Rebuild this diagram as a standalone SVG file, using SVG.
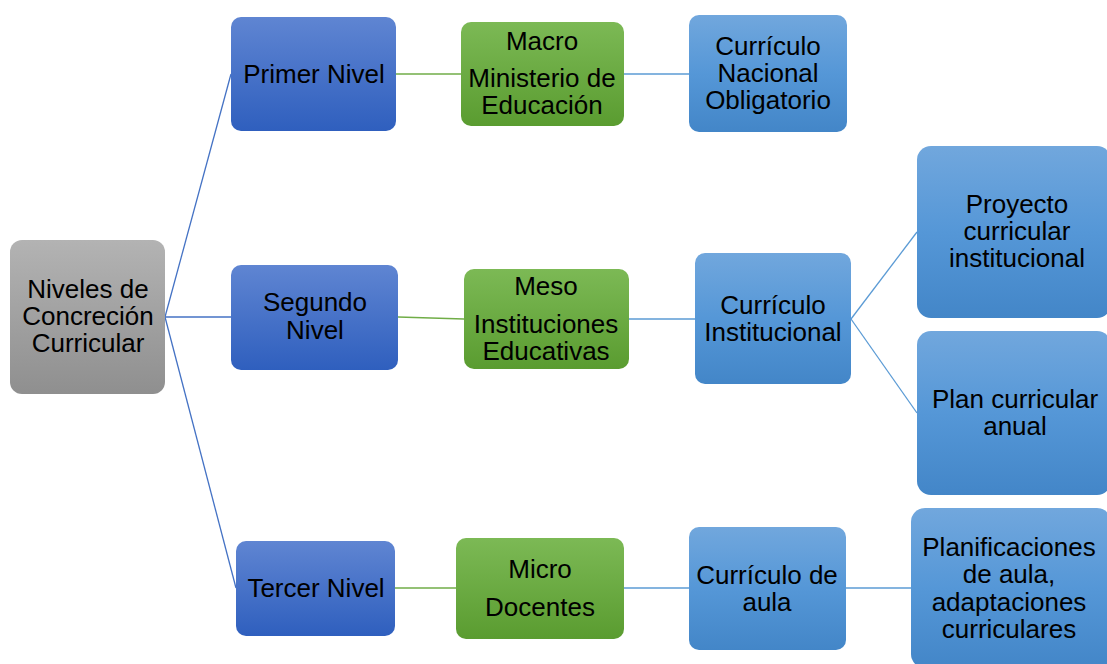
<svg xmlns="http://www.w3.org/2000/svg" width="1107" height="664" viewBox="0 0 1107 664">
<defs>
<linearGradient id="gGray" x1="0" y1="0" x2="0" y2="1"><stop offset="0" stop-color="#b3b3b3"/><stop offset="1" stop-color="#8f8f8f"/></linearGradient>
<linearGradient id="gBlue" x1="0" y1="0" x2="0" y2="1"><stop offset="0" stop-color="#5f85d2"/><stop offset="1" stop-color="#2f5fbe"/></linearGradient>
<linearGradient id="gGreen" x1="0" y1="0" x2="0" y2="1"><stop offset="0" stop-color="#7cb955"/><stop offset="1" stop-color="#5a9c30"/></linearGradient>
<linearGradient id="gLight" x1="0" y1="0" x2="0" y2="1"><stop offset="0" stop-color="#71a7dd"/><stop offset="0.5" stop-color="#5597d7"/><stop offset="1" stop-color="#4386c8"/></linearGradient>
</defs>
<style>
text{font-family:"Liberation Sans",Arial,sans-serif;font-size:26px;fill:#000;text-anchor:middle}
.gray{fill:url(#gGray)}
.blue{fill:url(#gBlue)}
.green{fill:url(#gGreen)}
.light{fill:url(#gLight)}
.c1{stroke:#4472c4;stroke-width:1.3;fill:none}
.c2{stroke:#70ad47;stroke-width:1.3;fill:none}
.c3{stroke:#5b9bd5;stroke-width:1.3;fill:none}
</style>
<g id="connectors">
<line class="c1" x1="165" y1="317" x2="231" y2="74"/>
<line class="c1" x1="165" y1="317" x2="231" y2="317"/>
<line class="c1" x1="165" y1="317" x2="236" y2="588"/>
<line class="c2" x1="396" y1="74" x2="461" y2="74"/>
<line class="c2" x1="398" y1="317" x2="464" y2="319"/>
<line class="c2" x1="395" y1="588" x2="456" y2="588"/>
<line class="c3" x1="624" y1="74" x2="689" y2="74"/>
<line class="c3" x1="629" y1="319" x2="695" y2="319"/>
<line class="c3" x1="624" y1="588" x2="689" y2="588"/>
<line class="c3" x1="851" y1="319" x2="917" y2="232"/>
<line class="c3" x1="851" y1="319" x2="917" y2="413"/>
<line class="c3" x1="846" y1="588" x2="911" y2="588"/>
</g>
<g id="root"><rect class="gray" x="10" y="240" width="155" height="154" rx="12"/>
<text x="88" y="298">Niveles de</text><text x="88" y="325">Concreción</text><text x="88" y="352">Curricular</text></g>
<g id="primer"><rect class="blue" x="231" y="17" width="165" height="114" rx="10"/>
<text x="314" y="83">Primer Nivel</text></g>
<g id="segundo"><rect class="blue" x="231" y="265" width="167" height="105" rx="10"/>
<text x="315" y="311">Segundo</text><text x="315" y="339">Nivel</text></g>
<g id="tercer"><rect class="blue" x="236" y="541" width="159" height="95" rx="10"/>
<text x="316" y="597">Tercer Nivel</text></g>
<g id="macro"><rect class="green" x="461" y="22" width="163" height="104" rx="10"/>
<text x="542" y="50">Macro</text><text x="542" y="87">Ministerio de</text><text x="542" y="114">Educación</text></g>
<g id="meso"><rect class="green" x="464" y="269" width="165" height="100" rx="10"/>
<text x="546" y="295">Meso</text><text x="546" y="333">Instituciones</text><text x="546" y="360">Educativas</text></g>
<g id="micro"><rect class="green" x="456" y="538" width="168" height="101" rx="10"/>
<text x="540" y="578">Micro</text><text x="540" y="616">Docentes</text></g>
<g id="nacional"><rect class="light" x="689" y="15" width="158" height="117" rx="10"/>
<text x="768" y="55">Currículo</text><text x="768" y="82">Nacional</text><text x="768" y="109">Obligatorio</text></g>
<g id="institucional"><rect class="light" x="695" y="253" width="156" height="131" rx="10"/>
<text x="773" y="314">Currículo</text><text x="773" y="341">Institucional</text></g>
<g id="aula"><rect class="light" x="689" y="527" width="157" height="123" rx="10"/>
<text x="767" y="584">Currículo de</text><text x="767" y="611">aula</text></g>
<g id="proyecto"><rect class="light" x="917" y="146" width="194" height="172" rx="14"/>
<text x="1017" y="213">Proyecto</text><text x="1017" y="240">curricular</text><text x="1017" y="267">institucional</text></g>
<g id="plan"><rect class="light" x="917" y="331" width="194" height="164" rx="14"/>
<text x="1015" y="408">Plan curricular</text><text x="1015" y="435">anual</text></g>
<g id="planificaciones"><rect class="light" x="911" y="508" width="200" height="160" rx="14"/>
<text x="1009" y="556">Planificaciones</text><text x="1009" y="583">de aula,</text><text x="1009" y="611">adaptaciones</text><text x="1009" y="638">curriculares</text></g>
</svg>
